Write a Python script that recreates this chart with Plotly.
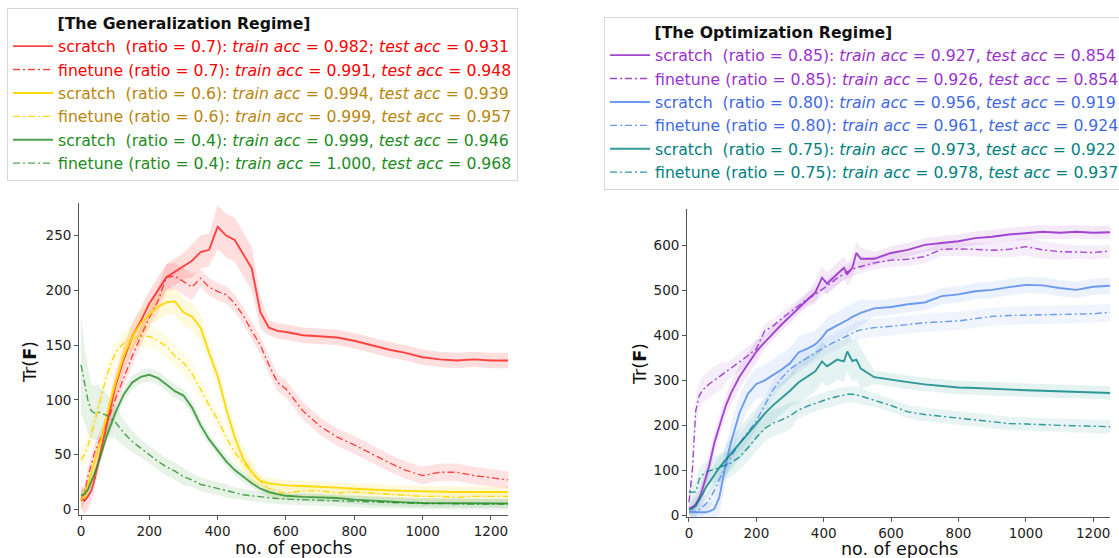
import numpy as np
import plotly.graph_objects as go

# ---------------- generalization regime (left) ----------------
epochs_gen = [0, 10, 20, 30, 40, 50, 60, 75, 100, 125, 150, 175, 200, 225, 250, 275, 300, 325, 350, 375,
              400, 425, 450, 475, 500, 525, 550, 575, 600, 650, 700, 750, 800, 850, 900, 950, 1000, 1050,
              1100, 1150, 1200, 1250]

scratch_07 = [11, 8, 12, 17, 28, 42, 56, 78, 112, 137, 158, 172, 188, 200, 212, 217, 222, 227, 235, 237,
              258, 250, 246, 233, 220, 180, 166, 163, 162, 159, 158, 157, 154, 150, 146, 143, 139, 137,
              136, 137, 136, 136]
scratch_07_std = [10, 12, 12, 10, 10, 10, 10, 12, 12, 12, 12, 12, 12, 12, 12, 12, 12, 15, 15, 15,
                  20, 20, 20, 20, 20, 15, 7, 7, 7, 7, 7, 7, 7, 7, 7, 7, 7, 7, 7, 7, 7, 7]
finetune_07 = [8, 14, 30, 42, 52, 60, 67, 78, 100, 120, 140, 158, 175, 190, 212, 213, 208, 203, 211, 203,
               199, 196, 188, 177, 163, 150, 132, 116, 110, 90, 76, 66, 59, 51, 43, 36, 31, 34, 34, 31,
               29, 27]
finetune_07_std = [8, 8, 8, 8, 8, 8, 8, 8, 8, 8, 8, 8, 8, 12, 12, 12, 12, 12, 8, 8,
                   8, 8, 8, 8, 8, 8, 8, 8, 8, 8, 8, 8, 8, 8, 8, 8, 8, 8, 8, 8, 8, 8]
scratch_06 = [9, 12, 22, 33, 45, 55, 65, 85, 115, 140, 158, 170, 178, 185, 189, 190, 180, 176, 166, 143,
              122, 92, 66, 46, 34, 26, 24, 23, 22, 21.5, 21, 20, 19, 18, 17.5, 17, 16.5, 16, 16, 16,
              16, 16]
scratch_06_std = [8, 8, 8, 8, 8, 8, 8, 8, 12, 12, 12, 12, 12, 12, 12, 12, 12, 12, 12, 10,
                  10, 10, 10, 10, 10, 5, 5, 5, 5, 5, 5, 5, 5, 5, 5, 5, 5, 5, 5, 5, 5, 5]
finetune_06 = [45, 50, 58, 68, 80, 92, 105, 122, 143, 152, 156, 158, 158, 154, 149, 140, 134, 124, 110, 95,
               82, 66, 52, 43, 33, 25, 19, 16, 15, 17, 17, 15, 16, 15, 14, 13, 12, 12, 11, 12, 12, 12]
finetune_06_std = [10, 10, 10, 10, 10, 10, 10, 10, 10, 10, 10, 10, 10, 10, 10, 10, 10, 10, 10, 8,
                   8, 8, 8, 8, 8, 5, 5, 5, 5, 5, 5, 5, 5, 5, 5, 5, 5, 5, 5, 5, 5, 5]
scratch_04 = [13, 14, 18, 25, 33, 42, 52, 67, 88, 105, 116, 121, 123, 120, 114, 108, 104, 93, 77, 64,
              54, 44, 36, 30, 24, 19, 16, 14, 12.5, 11.5, 11, 10.5, 9, 8, 7, 6.5, 6, 6, 6, 5.5, 5.5, 5.5]
scratch_04_std = [5, 5, 5, 5, 5, 5, 6, 6, 6, 6, 6, 6, 6, 6, 6, 6, 6, 6, 6, 5,
                  5, 5, 5, 5, 4, 4, 4, 4, 4, 4, 4, 4, 4, 4, 4, 4, 4, 4, 4, 4, 4, 4]
finetune_04 = [132, 115, 100, 90, 88, 89, 88, 86, 80, 70, 62, 56, 50, 44, 39, 35, 30, 27, 23, 21,
               19, 17, 15, 13.5, 12.5, 11.5, 10.5, 10, 9.5, 9, 8, 7.5, 7, 6.5, 6, 6, 5.5, 5.5, 5, 5, 5, 5]
finetune_04_std = [45, 35, 30, 25, 25, 25, 22, 20, 15, 12, 10, 8, 8, 8, 8, 8, 8, 6, 6, 6,
                   6, 6, 5, 5, 5, 5, 5, 5, 5, 5, 5, 5, 5, 5, 5, 5, 5, 5, 5, 5, 5, 5]

# ---------------- optimization regime (right) ----------------
epochs_opt = [0, 10, 20, 30, 40, 50, 60, 75, 90, 100, 110, 125, 150, 175, 200, 225, 250, 275, 300, 325,
              350, 375, 395, 410, 440, 460, 470, 485, 497, 510, 550, 600, 650, 700, 750, 800, 850, 900,
              950, 1000, 1050, 1100, 1150, 1200, 1250]

scratch_085 = [15, 18, 24, 38, 58, 82, 110, 160, 200, 222, 245, 272, 308, 336, 364, 385, 405, 424, 442, 461,
               478, 495, 528, 515, 535, 550, 536, 550, 583, 570, 570, 583, 590, 601, 605, 609, 616, 619,
               624, 627, 630, 628, 630, 628, 629]
scratch_085_std = [10, 10, 12, 15, 25, 25, 25, 25, 25, 25, 25, 25, 25, 25, 25, 15, 15, 15, 15, 15,
                   15, 25, 25, 25, 25, 25, 25, 25, 25, 25, 15, 15, 15, 15, 15, 15, 15, 15, 15, 15, 15, 15,
                   15, 15, 15]
finetune_085 = [29, 100, 232, 265, 278, 286, 292, 300, 308, 313, 318, 327, 341, 355, 370, 410, 421, 437, 451,
                467, 480, 491, 501, 510, 527, 537, 541, 547, 550, 553, 561, 567, 569, 575, 591, 592, 591,
                589, 591, 597, 590, 586, 585, 584, 587]
finetune_085_std = [15, 25, 30, 30, 30, 30, 30, 30, 30, 30, 20, 20, 20, 20, 20, 15, 15, 15, 15, 15,
                    15, 15, 15, 15, 15, 15, 15, 15, 15, 15, 15, 15, 15, 15, 15, 15, 15, 15, 18, 20, 20, 18,
                    15, 15, 15]
scratch_080 = [7, 7, 7, 7, 7, 7, 9, 14, 40, 78, 117, 163, 228, 270, 292, 300, 312, 324, 338, 362,
               370, 380, 395, 410, 422, 429, 434, 441, 445, 450, 460, 463, 469, 473, 487, 491, 498, 501,
               507, 512, 511, 505, 501, 508, 510]
scratch_080_std = [5, 15, 20, 20, 20, 20, 20, 20, 40, 40, 40, 40, 40, 35, 35, 35, 35, 35, 35, 35,
                   35, 30, 30, 30, 30, 30, 30, 30, 30, 30, 18, 18, 18, 18, 18, 18, 18, 18, 18, 18, 18, 18,
                   18, 18, 18]
finetune_080 = [8, 8, 9, 12, 18, 25, 35, 55, 80, 95, 110, 130, 160, 185, 210, 245, 280, 305, 325, 338,
                350, 362, 371, 377, 388, 396, 400, 406, 409, 412, 417, 420, 424, 428, 430, 432, 437, 442,
                444, 445, 446, 446, 447, 448, 451]
finetune_080_std = [10, 15, 20, 20, 20, 20, 20, 20, 20, 20, 20, 20, 20, 20, 20, 20, 20, 20, 20, 20,
                    20, 20, 20, 20, 20, 20, 20, 20, 20, 20, 20, 20, 20, 20, 20, 20, 20, 20, 20, 20, 20, 20,
                    20, 20, 20]
scratch_075 = [12, 15, 21, 33, 47, 62, 72, 89, 106, 115, 124, 137, 159, 181, 204, 226, 245, 260, 277, 295,
               308, 320, 342, 331, 346, 342, 364, 343, 346, 326, 307, 301, 296, 291, 288, 284, 283, 281,
               279, 278, 277, 276, 275, 274, 272]
scratch_075_std = [8, 25, 25, 25, 25, 25, 25, 25, 25, 25, 35, 35, 35, 35, 35, 35, 35, 35, 35, 45,
                   45, 45, 45, 45, 45, 45, 45, 45, 45, 45, 15, 15, 15, 15, 15, 15, 15, 15, 15, 15, 15, 15,
                   15, 15, 15]
finetune_075 = [51, 51, 52, 80, 90, 95, 99, 102, 106, 108, 111, 116, 130, 150, 173, 193, 205, 212, 221, 234,
                242, 249, 254, 258, 264, 267, 269, 269, 268, 265, 256, 244, 230, 224, 220, 216, 213, 208,
                204, 203, 201, 200, 199, 198, 197]
finetune_075_std = [25, 25, 25, 25, 25, 25, 25, 30, 30, 30, 30, 30, 30, 30, 30, 30, 30, 30, 30, 18,
                    18, 18, 18, 18, 18, 18, 18, 18, 18, 18, 15, 15, 15, 15, 15, 15, 15, 15, 15, 15, 15, 15,
                    15, 15, 15]

gen_labels = [
    "scratch\u00a0 (ratio = 0.7): <i>train acc</i> = 0.982; <i>test acc</i> = 0.931",
    "finetune (ratio = 0.7): <i>train acc</i> = 0.991, <i>test acc</i> = 0.948",
    "scratch\u00a0 (ratio = 0.6): <i>train acc</i> = 0.994, <i>test acc</i> = 0.939",
    "finetune (ratio = 0.6): <i>train acc</i> = 0.999, <i>test acc</i> = 0.957",
    "scratch\u00a0 (ratio = 0.4): <i>train acc</i> = 0.999, <i>test acc</i> = 0.946",
    "finetune (ratio = 0.4): <i>train acc</i> = 1.000, <i>test acc</i> = 0.968",
]
opt_labels = [
    "scratch\u00a0 (ratio = 0.85): <i>train acc</i> = 0.927, <i>test acc</i> = 0.854",
    "finetune (ratio = 0.85): <i>train acc</i> = 0.926, <i>test acc</i> = 0.854",
    "scratch\u00a0 (ratio = 0.80): <i>train acc</i> = 0.956, <i>test acc</i> = 0.919",
    "finetune (ratio = 0.80): <i>train acc</i> = 0.961, <i>test acc</i> = 0.924",
    "scratch\u00a0 (ratio = 0.75): <i>train acc</i> = 0.973, <i>test acc</i> = 0.922",
    "finetune (ratio = 0.75): <i>train acc</i> = 0.978, <i>test acc</i> = 0.937",
]

# (line colour, band colour, legend text colour)
gen_styles = [
    ("rgba(255,40,40,0.85)", "rgba(255,0,0,0.13)", "#ff0000"),
    ("rgba(255,40,40,0.85)", "rgba(255,0,0,0.11)", "#ff0000"),
    ("rgba(255,215,0,0.95)", "rgba(255,215,0,0.14)", "#b8860b"),
    ("rgba(255,215,0,0.95)", "rgba(255,215,0,0.10)", "#b8860b"),
    ("rgba(34,139,34,0.8)", "rgba(34,139,34,0.11)", "#228b22"),
    ("rgba(34,139,34,0.8)", "rgba(34,139,34,0.10)", "#228b22"),
]
opt_styles = [
    ("rgba(153,50,204,0.9)", "rgba(153,50,204,0.11)", "#9932cc"),
    ("rgba(153,50,204,0.9)", "rgba(153,50,204,0.09)", "#9932cc"),
    ("rgba(100,149,237,0.95)", "rgba(100,149,237,0.12)", "#4169e1"),
    ("rgba(100,149,237,0.95)", "rgba(100,149,237,0.10)", "#4169e1"),
    ("rgba(0,128,128,0.8)", "rgba(0,128,128,0.10)", "#008080"),
    ("rgba(0,128,128,0.8)", "rgba(0,128,128,0.09)", "#008080"),
]

gen_series = [(scratch_07, scratch_07_std), (finetune_07, finetune_07_std),
              (scratch_06, scratch_06_std), (finetune_06, finetune_06_std),
              (scratch_04, scratch_04_std), (finetune_04, finetune_04_std)]
opt_series = [(scratch_085, scratch_085_std), (finetune_085, finetune_085_std),
              (scratch_080, scratch_080_std), (finetune_080, finetune_080_std),
              (scratch_075, scratch_075_std), (finetune_075, finetune_075_std)]

DASHDOT = "7px,3px,2px,3px"
FONT = "DejaVu Sans"

fig = go.Figure()


def add_panel(epochs, series, labels, styles, xa, ya, legend):
    ep = np.array(epochs, dtype=float)
    # bands first
    for (mean, std), (lc, bc, tc) in zip(series, styles):
        m = np.array(mean, dtype=float)
        s = np.array(std, dtype=float)
        fig.add_trace(go.Scatter(
            x=np.concatenate([ep, ep[::-1]]), y=np.concatenate([m + s, (m - s)[::-1]]),
            fill="toself", fillcolor=bc, line=dict(width=0), mode="lines",
            hoverinfo="skip", showlegend=False, xaxis=xa, yaxis=ya))
    for i, ((mean, std), label, (lc, bc, tc)) in enumerate(zip(series, labels, styles)):
        dash = "solid" if i % 2 == 0 else DASHDOT
        fig.add_trace(go.Scatter(
            x=epochs, y=mean, mode="lines",
            line=dict(color=lc, width=1.9 if i % 2 == 0 else 1.4, dash=dash),
            name='<span style="color:%s">%s</span>' % (tc, label),
            legend=legend, xaxis=xa, yaxis=ya))


add_panel(epochs_gen, gen_series, gen_labels, gen_styles, "x", "y", "legend")
add_panel(epochs_opt, opt_series, opt_labels, opt_styles, "x2", "y2", "legend2")

# page margin / scrollbars are switched off in post_script below, so paper pixels = window pixels
W, H = 1119, 558


def px(x):
    return x / W


def py(y):
    return 1 - y / H


axis_common = dict(showgrid=False, zeroline=False, showline=True, linecolor="#555", linewidth=1.4,
                   ticks="outside", ticklen=4, tickcolor="#555", tickwidth=1.2,
                   tickfont=dict(family=FONT, size=13.5, color="#222"))

legend_common = dict(bgcolor="white", bordercolor="#d6d6d6", borderwidth=1,
                     font=dict(family=FONT, size=15.7), itemwidth=40,
                     xanchor="left", yanchor="top", tracegroupgap=0, traceorder="normal")

title_font = dict(family=FONT, size=17.5, color="#111")
axis_titles = [
    dict(text="no. of epochs", x=px(293.5), y=py(547.5), textangle=0),
    dict(text="no. of epochs", x=px(899), y=py(549), textangle=0),
    dict(text="Tr(<b>F</b>)", x=px(30), y=py(362), textangle=-90),
    dict(text="Tr(<b>F</b>)", x=px(640), y=py(364), textangle=-90),
]
title_pad = "\u00a0" * 9 + "\u2006"

fig.update_layout(
    width=W, height=H,
    margin=dict(l=0, r=0, t=0, b=0, autoexpand=False),
    plot_bgcolor="white", paper_bgcolor="white",
    font=dict(family=FONT, color="#111"),
    xaxis=dict(domain=[px(79.3), px(508)], range=[-5, 1250], tickvals=[0, 200, 400, 600, 800, 1000, 1200],
               anchor="y", **axis_common),
    yaxis=dict(domain=[py(515), py(202.7)], range=[-5, 280], tickvals=[0, 50, 100, 150, 200, 250],
               anchor="x", **axis_common),
    xaxis2=dict(domain=[px(687.3), px(1110)], range=[-5, 1250], tickvals=[0, 200, 400, 600, 800, 1000, 1200],
                anchor="y2", **axis_common),
    yaxis2=dict(domain=[py(516.7), py(209.3)], range=[-3, 680],
                tickvals=[0, 100, 200, 300, 400, 500, 600], anchor="x2", **axis_common),
    legend=dict(x=px(7), y=py(8),
                title=dict(text=title_pad + "<b>[The Generalization Regime]</b>",
                           font=dict(family=FONT, size=15.7, color="#111")),
                **legend_common),
    legend2=dict(x=px(604), y=py(17),
                 title=dict(text=title_pad + "<b>[The Optimization Regime]</b>",
                            font=dict(family=FONT, size=15.7, color="#111")),
                 **legend_common),
    annotations=[dict(text=a["text"], x=a["x"], y=a["y"], xref="paper", yref="paper",
                      xanchor="center", yanchor="middle", textangle=a["textangle"],
                      showarrow=False, font=title_font) for a in axis_titles],
)

fig.write_html(
    "out.html",
    config={"displayModeBar": False},
    post_script="document.body.style.margin='0';document.documentElement.style.overflow='hidden';",
)
